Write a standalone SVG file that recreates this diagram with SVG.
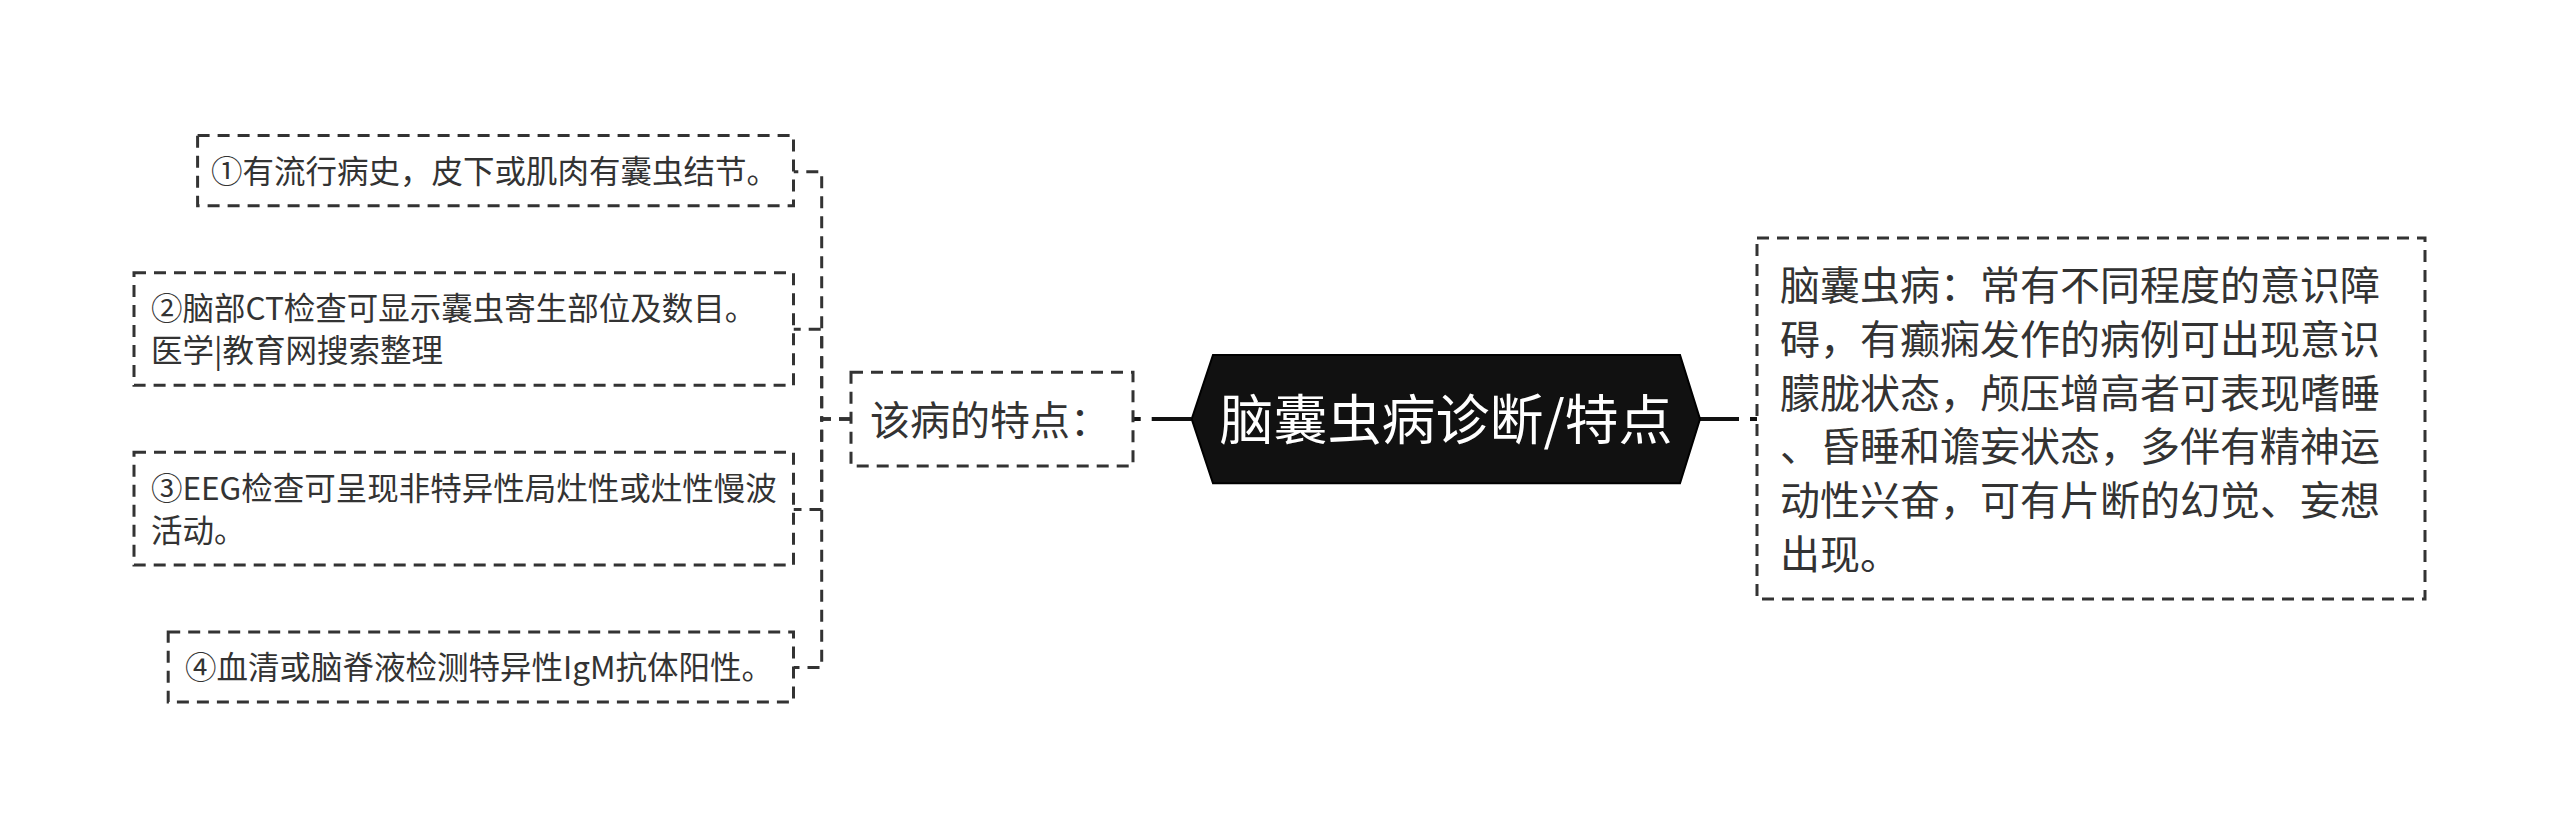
<svg xmlns="http://www.w3.org/2000/svg" width="2560" height="838" viewBox="0 0 2560 838">
<style>
text { font-family: "Noto Sans CJK SC", "Noto Sans", sans-serif; fill: #333333; }
.box { fill: #ffffff; stroke: #333333; stroke-width: 3; stroke-dasharray: 12 8; }
.item { font-size: 31.5px; }
.mid { font-size: 40px; }
.title { font-size: 54px; fill: #ffffff; }
.dash { fill: none; stroke: #333333; stroke-width: 3; stroke-dasharray: 12 8; }
.solid { fill: none; stroke: #111111; stroke-width: 4; }
</style>
<rect width="2560" height="838" fill="#ffffff"/>
<g id="connectors">
  <path class="dash" d="M851 419 H821.7 V171.7 H793.5"/>
  <path class="dash" d="M851 419 H821.7 V329.3 H793.5"/>
  <path class="dash" d="M851 419 H821.7 V509.5 H793.5"/>
  <path class="dash" d="M851 419 H821.7 V667.5 H793.5"/>
  <path class="solid" d="M1191.7 419 H1133" stroke-dasharray="40 11 7 100"/>
  <path class="solid" d="M1700 419 H1757" stroke-dasharray="39 11 7 100"/>
</g>
<g id="root">
  <polygon points="1191.7,419 1213,355 1680,355 1700,419 1680,483.3 1213,483.3" fill="#111111" stroke="#000000" stroke-width="2"/>
  <text class="title" x="1446" y="439.5" text-anchor="middle">脑囊虫病诊断/特点</text>
</g>
<g id="feature">
  <rect class="box" x="851" y="372.3" width="282" height="93.7"/>
  <text class="mid" x="870" y="434.5">该病的特点：</text>
</g>
<g id="item1">
  <rect class="box" x="197.6" y="135.5" width="595.9" height="70.2"/>
  <text class="item" x="211" y="182.6">①有流行病史，皮下或肌肉有囊虫结节。</text>
</g>
<g id="item2">
  <rect class="box" x="134" y="272.7" width="659.5" height="112.6"/>
  <text class="item" x="151" y="320">②脑部CT检查可显示囊虫寄生部位及数目。</text>
  <text class="item" x="151" y="362">医学|教育网搜索整理</text>
</g>
<g id="item3">
  <rect class="box" x="134" y="452.3" width="659.5" height="112.7"/>
  <text class="item" x="151" y="499.7">③EEG检查可呈现非特异性局灶性或灶性慢波</text>
  <text class="item" x="151" y="541.7">活动。</text>
</g>
<g id="item4">
  <rect class="box" x="168.2" y="631.9" width="625.3" height="70.1"/>
  <text class="item" x="185" y="679">④血清或脑脊液检测特异性IgM抗体阳性。</text>
</g>
<g id="detail">
  <rect class="box" x="1757" y="238" width="668" height="361"/>
  <text class="mid" x="1780" y="300">脑囊虫病：常有不同程度的意识障</text>
  <text class="mid" x="1780" y="353.8">碍，有癫痫发作的病例可出现意识</text>
  <text class="mid" x="1780" y="407.6">朦胧状态，颅压增高者可表现嗜睡</text>
  <text class="mid" x="1780" y="461.4">、昏睡和谵妄状态，多伴有精神运</text>
  <text class="mid" x="1780" y="515.2">动性兴奋，可有片断的幻觉、妄想</text>
  <text class="mid" x="1780" y="569">出现。</text>
</g>
</svg>
